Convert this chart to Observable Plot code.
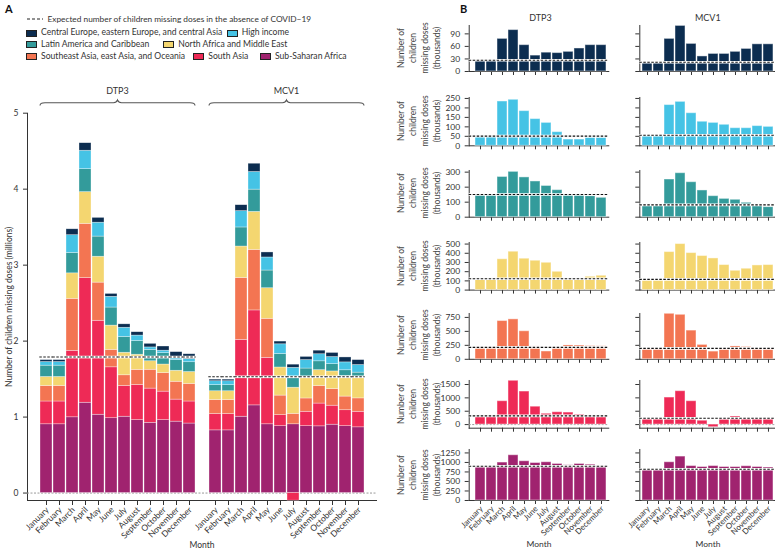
<!DOCTYPE html>
<html>
<head>
<meta charset="utf-8">
<script src="https://cdn.jsdelivr.net/npm/d3@7"></script>
<script src="https://cdn.jsdelivr.net/npm/@observablehq/plot@0.6"></script>
<style>
  html, body { margin: 0; padding: 0; background: #fff; }
  body { width: 775px; height: 551px; overflow: hidden; position: relative; font-family: Lato, "Open Sans", sans-serif; color: #333; }
  .abs { position: absolute; }
  .panel { font-weight: 700; font-size: 11px; color: #111; }
  .leg { font-size: 8.6px; white-space: nowrap; line-height: 11px; color: #333; }
  .leg0 { font-size: 8.3px; white-space: nowrap; line-height: 10px; color: #333; }
  .sw { display: inline-block; width: 11px; height: 6.5px; border: 0.8px solid #222; box-sizing: border-box; }
  .rowlab { font-size: 8.5px; line-height: 12px; text-align: center; white-space: pre-line; transform: rotate(-90deg); color: #444; }
  .title { font-size: 9px; color: #333; transform: translateX(-50%); }
</style>
</head>
<body>
<script>
// ---------------- data (thousands of children missing doses, 2020) ----------------
const months = ["January","February","March","April","May","June","July","August","September","October","November","December"];
const vaccines = ["DTP3", "MCV1"];
// stacking order, bottom to top
const regions = [
  "Sub-Saharan Africa",
  "South Asia",
  "Southeast Asia, east Asia, and Oceania",
  "North Africa and Middle East",
  "Latin America and Caribbean",
  "High income",
  "Central Europe, eastern Europe, and central Asia"
];
const regionColors = ["#a0236f", "#ee2a56", "#f37552", "#f4d670", "#339b9b", "#45c3e5", "#0c2d50"];

const subSaharanDTP3    = [905, 905, 997, 1189, 1031, 985, 1005, 960, 925, 960, 940, 915];
const southAsiaDTP3     = [300, 300, 875, 1640, 1237, 670, 405, 462, 450, 375, 290, 290];
const southeastAsiaDTP3 = [205, 205, 685, 715, 502, 230, 140, 200, 248, 245, 235, 232];
const northAfricaDTP3   = [118, 118, 335, 417, 341, 319, 297, 199, 112, 112, 145, 156];
const latinAmericaDTP3  = [149, 149, 268, 302, 265, 238, 208, 180, 149, 149, 140, 129];
const highIncomeDTP3    = [47, 47, 234, 243, 183, 141, 121, 72, 33, 33, 42, 42];
const centralEuropeDTP3 = [26, 26, 78, 99, 63, 38, 45, 44, 47, 55, 63, 63];

const subSaharanMCV1    = [825, 825, 1005, 1154, 905, 880, 905, 880, 878, 900, 880, 865];
const southAsiaMCV1     = [215, 215, 1012, 1250, 875, 145, -100, 190, 300, 250, 210, 205];
const southeastAsiaMCV1 = [185, 185, 815, 797, 514, 258, 138, 175, 230, 219, 180, 176];
const northAfricaMCV1   = [115, 115, 413, 500, 402, 370, 344, 272, 210, 232, 268, 272];
const latinAmericaMCV1  = [80, 80, 251, 293, 233, 178, 140, 122, 116, 96, 78, 67];
const highIncomeMCV1    = [52, 52, 215, 232, 172, 127, 121, 111, 93, 93, 104, 100];
const centralEuropeMCV1 = [21, 21, 78, 109, 66, 36, 42, 42, 47, 54, 65, 65];

// expected number missing doses in the absence of COVID-19, same region order
const expectedDTP3 = [900, 325, 213, 123, 151, 51, 27];
const expectedMCV1 = [822, 237, 195, 116, 82, 56, 22];

const yTicksB = [
  [0, 250, 500, 750, 1000, 1250],
  [0, 500, 1000, 1500],
  [0, 250, 500, 750],
  [0, 100, 200, 300, 400, 500],
  [0, 100, 200, 300],
  [0, 50, 100, 150, 200, 250],
  [0, 30, 60, 90]
];
const yTicksA = [0, 1, 2, 3, 4, 5];

// ---------------- build tables ----------------
const seriesByVaccine = {
  DTP3: [subSaharanDTP3, southAsiaDTP3, southeastAsiaDTP3, northAfricaDTP3, latinAmericaDTP3, highIncomeDTP3, centralEuropeDTP3],
  MCV1: [subSaharanMCV1, southAsiaMCV1, southeastAsiaMCV1, northAfricaMCV1, latinAmericaMCV1, highIncomeMCV1, centralEuropeMCV1]
};
const expectedByVaccine = {DTP3: expectedDTP3, MCV1: expectedMCV1};
const rows = [];
for (const v of vaccines)
  regions.forEach((r, ri) => months.forEach((m, mi) =>
    rows.push({vaccine: v, region: r, month: m, key: v + "|" + m, value: seriesByVaccine[v][ri][mi]})));
const expectedRows = [];
for (const v of vaccines) {
  const total = d3.sum(expectedByVaccine[v]);
  months.forEach(m => expectedRows.push({vaccine: v, key: v + "|" + m, value: total}));
}
const tickKeys = [...months.map(m => "DTP3|" + m), ...months.map(m => "MCV1|" + m)];
const xKeys = [...months.map(m => "DTP3|" + m), "gap", ...months.map(m => "MCV1|" + m)];

const FONT = "Lato, 'Open Sans', sans-serif";
const body = document.body;
function addDiv(cls, html, css) {
  const d = document.createElement("div");
  d.className = "abs " + cls;
  d.innerHTML = html;
  Object.assign(d.style, css);
  body.appendChild(d);
  return d;
}

// ---------------- panel labels and legend ----------------
addDiv("panel", "A", {left: "5px", top: "2px"});
addDiv("panel", "B", {left: "460px", top: "2px"});

addDiv("leg0", `<svg width="16" height="6" style="vertical-align:middle"><line x1="0" y1="3" x2="16" y2="3" stroke="#222" stroke-width="1" stroke-dasharray="3,2"/></svg>`, {left: "27px", top: "13px"});
addDiv("leg0", "Expected number of children missing doses in the absence of COVID−19", {left: "47.5px", top: "13.5px"});

const legendRows = [[6, 5], [4, 3], [2, 1, 0]];
const legendX = [[26, 226.7], [26, 163.3], [26, 193.3, 260]];
const legendY = [33.3, 44.7, 56.7];
legendRows.forEach((row, i) => row.forEach((ri, j) => {
  addDiv("leg", `<span class="sw" style="background:${regionColors[ri]}"></span>`, {left: legendX[i][j] + "px", top: (legendY[i] - 3.25) + "px", lineHeight: "6.5px"});
  addDiv("leg", regions[ri], {left: (legendX[i][j] + 15) + "px", top: (legendY[i] - 6) + "px"});
}));

// ---------------- panel A ----------------
const A_TOP = 62;
const plotA = Plot.plot({
  width: 390, height: 489,
  marginTop: 50.7, marginBottom: 51, marginLeft: 27, marginRight: 14,
  style: {fontFamily: FONT, fontSize: "8.5px", color: "#333", background: "transparent", overflow: "visible"},
  x: {domain: xKeys, padding: 0.08, ticks: tickKeys, tickFormat: () => "", tickSize: 5,
      label: "Month", labelAnchor: "center", labelOffset: 47, line: true, labelArrow: "none"},
  y: {domain: [-0.098, 5], ticks: yTicksA, tickFormat: d => String(d), tickSize: 4, line: true,
      label: "Number of children missing doses (millions)", labelAnchor: "center", labelOffset: 22, labelArrow: "none"},
  color: {domain: regions, range: regionColors},
  marks: [
    Plot.ruleY([0], {stroke: "#9a9a9a", strokeDasharray: "2,1.5"}),
    Plot.barY(rows, {x: "key", y: d => d.value / 1000, fill: "region", stroke: "white", strokeOpacity: 0.55, strokeWidth: 0.6}),
    Plot.tickY(expectedRows, {x: "key", y: d => d.value / 1000, stroke: "white", strokeWidth: 2.6, inset: -0.7}),
    Plot.tickY(expectedRows, {x: "key", y: d => d.value / 1000, stroke: "#222", strokeWidth: 1.1, strokeDasharray: "2.5,1.5", inset: -0.7}),
    Plot.text(tickKeys, {x: d => d, text: d => d.split("|")[1], frameAnchor: "bottom", rotate: -45,
      textAnchor: "end", lineAnchor: "middle", dy: 8, dx: 1, fontSize: 8.5, fill: "#333"})
  ]
});
Object.assign(plotA.style, {position: "absolute", left: "0px", top: A_TOP + "px"});
body.appendChild(plotA);

// braces above each vaccine group, derived from the x scale
{
  const xs = plotA.scale("x");
  const svg = d3.select(plotA);
  const yFlat = 102.7 - A_TOP, yTip = 100 - A_TOP, yEnd = 105.5 - A_TOP;
  for (const v of vaccines) {
    const x0 = xs.apply(v + "|January");
    const x1 = xs.apply(v + "|December") + xs.bandwidth;
    const xm = (x0 + x1) / 2;
    svg.append("path")
      .attr("d", `M${x0},${yEnd} Q${x0},${yFlat} ${x0 + 5},${yFlat} L${xm - 4},${yFlat} Q${xm - 1},${yFlat} ${xm},${yTip} Q${xm + 1},${yFlat} ${xm + 4},${yFlat} L${x1 - 5},${yFlat} Q${x1},${yFlat} ${x1},${yEnd}`)
      .attr("fill", "none").attr("stroke", "#555").attr("stroke-width", 1.1);
    svg.append("text").attr("x", xm).attr("y", 91.7 - A_TOP).attr("text-anchor", "middle").attr("dominant-baseline", "middle")
      .attr("font-size", 9).attr("fill", "#333").text(v);
  }
}

// ---------------- panel B ----------------
addDiv("title", "DTP3", {left: "540.5px", top: "12px"});
addDiv("title", "MCV1", {left: "707.8px", top: "12px"});

// layout of the seven rows (top to bottom = region indexes 6..0): frame top/bottom in page pixels
const bRows = [
  {ri: 6, top: 25,    bottom: 71,    domain: [0, 110]},
  {ri: 5, top: 96.7,  bottom: 145,   domain: [0, 255]},
  {ri: 4, top: 170,   bottom: 216.7, domain: [0, 311]},
  {ri: 3, top: 241.7, bottom: 289.3, domain: [0, 517]},
  {ri: 2, top: 312.5, bottom: 358.3, domain: [0, 820]},
  {ri: 1, top: 380,   bottom: 427.7, domain: [-135, 1650]},
  {ri: 0, top: 449.3, bottom: 500.3, domain: [0, 1340]}
];
const cols = [
  {svgLeft: 395, axisX: 468.7, barStart: 472.7, barEnd: 608.3},
  {svgLeft: 600, axisX: 639.3, barStart: 640,   barEnd: 775.6}
];

bRows.forEach((spec, k) => {
  const last = k === bRows.length - 1;
  vaccines.forEach((v, vi) => {
    const col = cols[vi];
    const mt = 6, mb = last ? 551 - spec.bottom : 8;
    const ml = col.axisX - col.svgLeft;
    const mr = 2;
    const width = col.barEnd - col.svgLeft + mr;
    const height = mt + (spec.bottom - spec.top) + mb;
    const data = rows.filter(d => d.vaccine === v && d.region === regions[spec.ri]);
    const expected = expectedByVaccine[v][spec.ri];
    const p = Plot.plot({
      width, height, marginTop: mt, marginBottom: mb, marginLeft: ml, marginRight: mr,
      style: {fontFamily: FONT, fontSize: "8.5px", color: "#333", background: "transparent", overflow: "visible"},
      x: {domain: months, padding: 0.08, insetLeft: col.barStart - col.axisX, tickSize: 4, line: true,
          tickFormat: () => "",
          label: last ? "Month" : null, labelAnchor: "center", labelOffset: 47, labelArrow: "none"},
      y: {domain: spec.domain, ticks: yTicksB[spec.ri], tickSize: 4, line: true, label: null,
          tickFormat: vi === 0 ? (d => String(d)) : (() => "")},
      marks: [
        spec.domain[0] < 0 ? Plot.ruleY([0], {stroke: "#9a9a9a", strokeDasharray: "2,1.5"}) : null,
        Plot.barY(data, {x: "month", y: "value", fill: regionColors[spec.ri], stroke: "white", strokeOpacity: 0.45, strokeWidth: 1}),
        Plot.ruleY([expected], {stroke: "white", strokeWidth: 2.6}),
        Plot.ruleY([expected], {stroke: "#111", strokeWidth: 1.1, strokeDasharray: "2.5,1.5"}),
        last ? Plot.text(months, {x: d => d, frameAnchor: "bottom", rotate: -45, textAnchor: "end", lineAnchor: "middle",
          dy: 7, dx: 1, fontSize: 8, fill: "#333"}) : null
      ]
    });
    Object.assign(p.style, {position: "absolute", left: col.svgLeft + "px", top: (spec.top - mt) + "px"});
    body.appendChild(p);
  });
  const cy = (spec.top + spec.bottom) / 2;
  addDiv("rowlab", "Number of\nchildren\nmissing doses\n(thousands)", {left: (418.5 - 40) + "px", top: (cy - 24) + "px", width: "80px", height: "48px"});
});
</script>
</body>
</html>
